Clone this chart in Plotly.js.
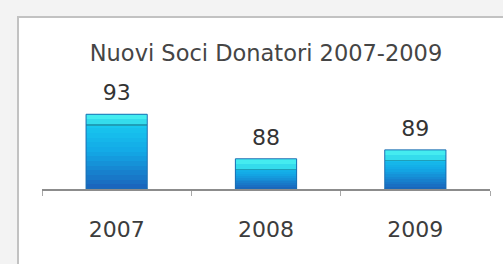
<!DOCTYPE html>
<html><head><meta charset="utf-8">
<script src="https://cdn.plot.ly/plotly-3.0.1.min.js"></script>
<style>
html,body{margin:0;padding:0;background:#f3f3f3;width:503px;height:264px;overflow:hidden}
#frame{position:absolute;left:17px;top:16px;width:484px;height:246px;border-left:2px solid #c2c2c2;border-top:2px solid #c2c2c2;background:#fff}
#chart{width:484px;height:246px}
</style></head><body>
<div id="frame"><div id="chart"></div></div>
<script>
const categories = ['2007', '2008', '2009'];
const values = [93, 88, 89];
const valueLabels = ['93', '88', '89'];
const titleText = 'Nuovi Soci Donatori 2007-2009';

const yMin = 84.6, yMax = 102.7;
const FONT = 'DejaVu Sans, Verdana, sans-serif';

const stops = [[0, [0x1a, 0xd2, 0xf2]], [0.5, [0x13, 0xa8, 0xe6]], [1, [0x1a, 0x66, 0xbd]]];
function colorAt(t) {
  for (let i = 0; i < stops.length - 1; i++) {
    const [t0, c0] = stops[i], [t1, c1] = stops[i + 1];
    if (t <= t1) {
      const u = (t - t0) / (t1 - t0);
      const c = c0.map((v, j) => Math.round(v + (c1[j] - v) * u));
      return 'rgb(' + c.join(',') + ')';
    }
  }
  return 'rgb(' + stops[stops.length - 1][1].join(',') + ')';
}

const BW = 0.41;
const traces = [];
const N = 16;
for (let k = 0; k < N; k++) {
  const f = 1 - k / N;
  traces.push({
    type: 'bar', x: categories, y: values.map(v => (v - yMin) * f), base: yMin,
    width: BW, marker: {color: colorAt(k / (N - 1)), line: {width: 0}},
    hoverinfo: 'skip', showlegend: false
  });
}
const hb = 1.1;
traces.push({
  type: 'bar', x: categories, y: values.map(() => 0.18), base: values.map(v => v - hb - 0.18),
  width: BW, marker: {color: '#1e9fb8', line: {width: 0}}, hoverinfo: 'skip', showlegend: false
});
traces.push({
  type: 'bar', x: categories, y: values.map(() => hb * 0.5), base: values.map(v => v - hb),
  width: BW, marker: {color: '#34dcec', line: {width: 0}}, hoverinfo: 'skip', showlegend: false
});
traces.push({
  type: 'bar', x: categories, y: values.map(() => hb * 0.5), base: values.map(v => v - hb * 0.5),
  width: BW, marker: {color: '#44ecf0', line: {width: 0}}, hoverinfo: 'skip', showlegend: false
});
traces.push({
  type: 'bar', x: categories, y: values.map(v => v - yMin), base: yMin,
  width: BW, marker: {color: 'rgba(0,0,0,0)', line: {width: 1, color: '#1a6fb3'}},
  hoverinfo: 'skip', showlegend: false
});
// value labels, lifted a little above the bar top
const labelLift = 0.7;
traces.push({
  type: 'bar', x: categories, y: values.map(v => v - yMin + labelLift), base: yMin,
  width: BW, marker: {color: 'rgba(0,0,0,0)', line: {width: 0}},
  text: valueLabels, textposition: 'outside', cliponaxis: false,
  textfont: {family: FONT, size: 22, color: '#333333'},
  hoverinfo: 'skip', showlegend: false
});

const layout = {
  width: 484, height: 246,
  margin: {l: 23, r: 13, t: 10, b: 75},
  paper_bgcolor: '#ffffff', plot_bgcolor: '#ffffff',
  barmode: 'overlay', bargap: 0,
  showlegend: false,
  title: {text: titleText, x: 0.5, xref: 'paper', xanchor: 'center', y: 0.858, yref: 'container', yanchor: 'middle',
          font: {family: FONT, size: 22.5, color: '#454545'}},
  xaxis: {type: 'category', range: [-0.5, 2.5], showline: true, linecolor: '#8c8c8c', linewidth: 2,
          ticks: 'outside', tickson: 'boundaries', ticklen: 5, tickwidth: 1, tickcolor: '#a8a8a8',
          tickfont: {family: FONT, size: 22, color: '#3c3c3c'}, ticklabelstandoff: 20,
          showgrid: false, zeroline: false, fixedrange: true},
  yaxis: {visible: false, range: [yMin, yMax], showgrid: false, zeroline: false, fixedrange: true}
};

Plotly.newPlot('chart', traces, layout, {displayModeBar: false, staticPlot: true});
</script>
</body></html>
